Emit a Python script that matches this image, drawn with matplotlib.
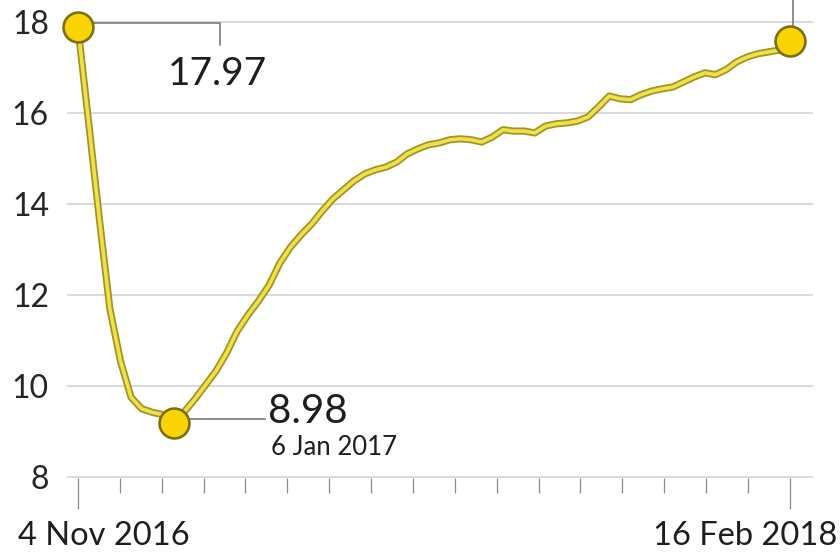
import matplotlib
matplotlib.use("Agg")
import matplotlib.pyplot as plt
import matplotlib.patheffects as pe
import matplotlib.dates as mdates
import numpy as np
import pandas as pd

# weekly currency in circulation (Rs lakh crore), 4 Nov 2016 .. 16 Feb 2018
dates = pd.date_range("2016-11-04", "2018-02-16", freq="7D")
values = [
    17.88, 15.8, 13.7, 11.7, 10.55, 9.75, 9.5, 9.42, 9.37, 9.19,
    9.43, 9.71, 10.02, 10.33, 10.73, 11.21, 11.56, 11.87, 12.22, 12.70,
    13.05, 13.32, 13.56, 13.85, 14.11, 14.31, 14.51, 14.66, 14.75, 14.81,
    14.92, 15.10, 15.21, 15.30, 15.34, 15.41, 15.43, 15.41, 15.36, 15.47,
    15.63, 15.60, 15.60, 15.56, 15.71, 15.76, 15.78, 15.82, 15.91, 16.13,
    16.37, 16.31, 16.29, 16.40, 16.48, 16.53, 16.57, 16.68, 16.79, 16.88,
    16.84, 16.95, 17.12, 17.23, 17.30, 17.34, 17.38, 17.58,
]
y_ticks = [8, 10, 12, 14, 16, 18]
start_label = "4 Nov 2016"
end_label = "16 Feb 2018"
first_value_label = "17.97"
low_value_label = "8.98"
low_date_label = "6 Jan 2017"
low_idx = 9

plt.rcParams["font.family"] = ["Lato", "DejaVu Sans"]

fig = plt.figure(figsize=(8.4, 5.54), dpi=100)
ax = fig.add_axes([0.0798, 0.1365, 0.888, 0.8635])

start, end = dates[0], dates[-1]
day = pd.Timedelta(days=1)
ax.set_xlim(start - 7.2 * day, end + 15.2 * day)
ax.set_ylim(7.97, 18.48)

# line with dark outline
ax.plot(dates, values, color="#efe14c", lw=2.6, solid_capstyle="round",
        path_effects=[pe.Stroke(linewidth=5.2, foreground="#a39524"), pe.Normal()],
        zorder=3)

marker_style = dict(marker="o", ms=21.5, mfc="#fbd406", mec="#7d6f18",
                    mew=1.9, ls="none", zorder=5)

leader = dict(color="#6f6f6f", lw=1.1, zorder=2)

# first point leader + label
ax.plot([start, start + 93.5 * day, start + 93.5 * day],
        [17.97, 17.97, 17.49], **leader)
ax.text(start + 92 * day, 16.62, first_value_label, ha="center",
        va="baseline", fontsize=28, color="#1e1e1e")

# low point leader + labels
low_date = dates[low_idx]
ax.plot([low_date, start + 123 * day], [9.27, 9.27], **leader)
ax.text(start + 125 * day, 9.19, low_value_label, ha="left", va="baseline",
        fontsize=29, color="#1e1e1e")
ax.text(start + 127.5 * day, 8.48, low_date_label, ha="left", va="baseline",
        fontsize=18.5, color="#1e1e1e")

# last point leader running off the top
ax.plot([end + 2 * day, end + 2 * day], [values[-1], 18.7], clip_on=False,
        **leader)

ax.plot([start, low_date, end], [values[0], values[low_idx], values[-1]],
        clip_on=False, **marker_style)

# axes styling
for s in ax.spines.values():
    s.set_visible(False)
ax.set_yticks(y_ticks)
ax.set_yticklabels([str(t) for t in y_ticks])
ax.yaxis.grid(True, color="#dadada", lw=1.5, zorder=0)
ax.tick_params(axis="y", length=0, pad=13, labelsize=23, labelcolor="#262626")

tick_dates = pd.to_datetime(np.linspace(start.value, end.value, 18))
ax.xaxis.set_major_locator(matplotlib.ticker.FixedLocator(
    mdates.date2num([tick_dates[0], tick_dates[-1]])))
ax.xaxis.set_minor_locator(matplotlib.ticker.FixedLocator(
    mdates.date2num(tick_dates[1:-1])))
ax.xaxis.set_major_formatter(matplotlib.ticker.NullFormatter())
ax.tick_params(axis="x", which="major", length=22, width=0.9, color="#8a8a8a")
ax.tick_params(axis="x", which="minor", length=11, width=0.9, color="#8a8a8a")
ax.set_axisbelow(True)

fig.text(18 / 840, 9 / 554, start_label, ha="left", va="baseline",
         fontsize=23.5, color="#1e1e1e")
fig.text(837 / 840, 9 / 554, end_label, ha="right", va="baseline",
         fontsize=23.5, color="#1e1e1e")

fig.savefig("out.png", dpi=100, facecolor="white")
